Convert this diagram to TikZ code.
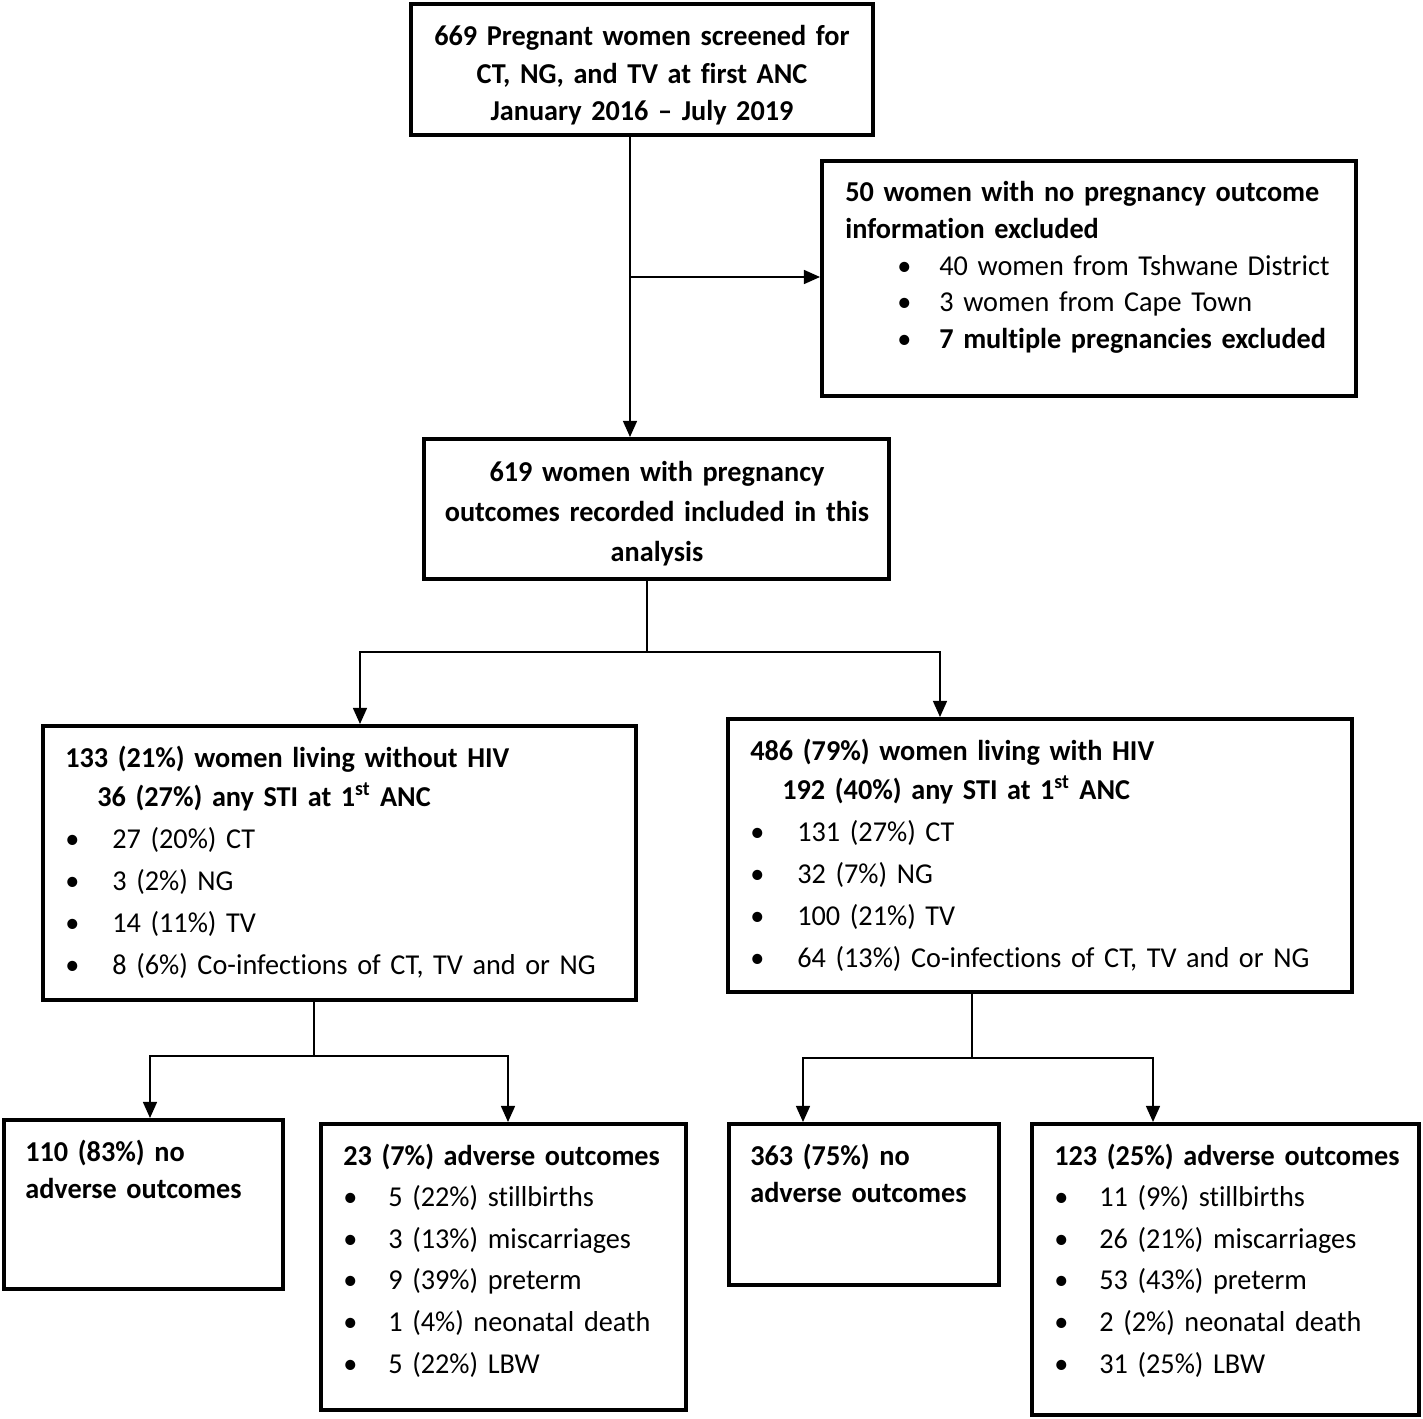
\documentclass[tikz,border=0pt]{standalone}
\usepackage{fontspec}
\setmainfont{Carlito}[Ligatures=NoCommon, FakeStretch=0.98, WordSpace=0.8]
\usetikzlibrary{arrows.meta,fit}

% bullet line: bullet in a box of width #1, then the text
\newcommand{\bitem}[2]{\makebox[#1][l]{\textbullet}#2}

\begin{document}
\begin{tikzpicture}[x=0.02cm, y=-0.02cm,
    flowbox/.style={draw, line width=2.3pt, inner sep=0pt},
    conn/.style={line width=0.8pt},
    arr/.style={conn, -{Triangle[length=0.32cm, width=0.28cm]}},
    boxtext/.style={anchor=base west, inner sep=0pt, align=left, text width=12cm,
        font=\fontsize{16.4}{23.8}\selectfont}]
    \useasboundingbox (0,0) rectangle (1423,1419);

    % boxes
    \node[flowbox, fit={(411,4) (873,135)}] (Screened) {};
    \node[flowbox, fit={(822,161) (1356,396)}] (Excluded) {};
    \node[flowbox, fit={(424,439) (889,579)}] (Included) {};
    \node[flowbox, fit={(43,726) (636,1000)}] (NoHIV) {};
    \node[flowbox, fit={(728,719) (1352,992)}] (HIV) {};
    \node[flowbox, fit={(4,1120) (283,1289)}] (NoHIVNormal) {};
    \node[flowbox, fit={(321,1124) (686,1410)}] (NoHIVAdverse) {};
    \node[flowbox, fit={(729,1124) (999,1285)}] (HIVNormal) {};
    \node[flowbox, fit={(1032,1124) (1419,1415)}] (HIVAdverse) {};

    % texts
    \node at (642,46) [boxtext, anchor=base, text width=9cm, align=center,
        font=\fontsize{16.4}{21.3}\selectfont\bfseries] (ScreenedText)
        {669 Pregnant women screened for\\ CT, NG, and TV at first ANC\\ January 2016 -- July 2019};
    \node at (845,202) [boxtext, font=\fontsize{16.4}{20.8}\selectfont] (ExcludedText)
        {\textbf{50 women with no pregnancy outcome}\\
         \textbf{information excluded}\\
         \hspace*{1.04cm}\bitem{0.84cm}{40 women from Tshwane District}\\
         \hspace*{1.04cm}\bitem{0.84cm}{3 women from Cape Town}\\
         \hspace*{1.04cm}\bitem{0.84cm}{\textbf{7 multiple pregnancies excluded}}};
    \node at (657,481) [boxtext, anchor=base, text width=9cm, align=center,
        font=\fontsize{16.4}{22.8}\selectfont\bfseries] (IncludedText)
        {619 women with pregnancy\\ outcomes recorded included in this\\ analysis};
    \node at (65,767) [boxtext] (NoHIVText)
        {\textbf{133 (21\%) women living without HIV}\\[-0.04cm]
         \hspace*{0.64cm}\textbf{36 (27\%) any STI at 1\textsuperscript{st} ANC}\\
         \bitem{0.94cm}{27 (20\%) CT}\\
         \bitem{0.94cm}{3 (2\%) NG}\\
         \bitem{0.94cm}{14 (11\%) TV}\\
         \bitem{0.94cm}{8 (6\%) Co-infections of CT, TV and or NG}};
    \node at (750,760) [boxtext] (HIVText)
        {\textbf{486 (79\%) women living with HIV}\\[-0.04cm]
         \hspace*{0.64cm}\textbf{192 (40\%) any STI at 1\textsuperscript{st} ANC}\\
         \bitem{0.94cm}{131 (27\%) CT}\\
         \bitem{0.94cm}{32 (7\%) NG}\\
         \bitem{0.94cm}{100 (21\%) TV}\\
         \bitem{0.94cm}{64 (13\%) Co-infections of CT, TV and or NG}};
    \node at (25,1161) [boxtext, font=\fontsize{16.4}{21.5}\selectfont\bfseries] (NoHIVNormalText)
        {110 (83\%) no\\ adverse outcomes};
    \node at (343,1165) [boxtext, font=\fontsize{16.4}{23.7}\selectfont] (NoHIVAdverseText)
        {\textbf{23 (7\%) adverse outcomes}\\
         \bitem{0.9cm}{5 (22\%) stillbirths}\\
         \bitem{0.9cm}{3 (13\%) miscarriages}\\
         \bitem{0.9cm}{9 (39\%) preterm}\\
         \bitem{0.9cm}{1 (4\%) neonatal death}\\
         \bitem{0.9cm}{5 (22\%) LBW}};
    \node at (750,1165) [boxtext, font=\fontsize{16.4}{21.5}\selectfont\bfseries] (HIVNormalText)
        {363 (75\%) no\\ adverse outcomes};
    \node at (1054,1165) [boxtext, font=\fontsize{16.4}{23.7}\selectfont] (HIVAdverseText)
        {\textbf{123 (25\%) adverse outcomes}\\
         \bitem{0.9cm}{11 (9\%) stillbirths}\\
         \bitem{0.9cm}{26 (21\%) miscarriages}\\
         \bitem{0.9cm}{53 (43\%) preterm}\\
         \bitem{0.9cm}{2 (2\%) neonatal death}\\
         \bitem{0.9cm}{31 (25\%) LBW}};

    % connectors
    \coordinate (ExclFork) at (630,277);
    \draw[arr] (Screened.south -| ExclFork) -- (Included.north -| ExclFork);
    \draw[arr] (ExclFork) -- (Excluded.west |- ExclFork);

    \coordinate (HIVFork) at (647,652);
    \coordinate (NoHIVDrop) at (360,652);
    \coordinate (HIVDrop) at (940,652);
    \draw[conn] (Included.south -| HIVFork) -- (HIVFork);
    \draw[arr] (HIVFork) -- (NoHIVDrop) -- (NoHIVDrop |- NoHIV.north);
    \draw[arr] (HIVFork) -- (HIVDrop) -- (HIVDrop |- HIV.north);

    \coordinate (NoHIVFork) at (314,1056);
    \coordinate (NoHIVNormalDrop) at (150,1056);
    \coordinate (NoHIVAdverseDrop) at (508,1056);
    \draw[conn] (NoHIV.south -| NoHIVFork) -- (NoHIVFork);
    \draw[arr] (NoHIVFork) -- (NoHIVNormalDrop) -- (NoHIVNormalDrop |- NoHIVNormal.north);
    \draw[arr] (NoHIVFork) -- (NoHIVAdverseDrop) -- (NoHIVAdverseDrop |- NoHIVAdverse.north);

    \coordinate (HIVFork2) at (972,1058);
    \coordinate (HIVNormalDrop) at (803,1058);
    \coordinate (HIVAdverseDrop) at (1153,1058);
    \draw[conn] (HIV.south -| HIVFork2) -- (HIVFork2);
    \draw[arr] (HIVFork2) -- (HIVNormalDrop) -- (HIVNormalDrop |- HIVNormal.north);
    \draw[arr] (HIVFork2) -- (HIVAdverseDrop) -- (HIVAdverseDrop |- HIVAdverse.north);
\end{tikzpicture}
\end{document}
